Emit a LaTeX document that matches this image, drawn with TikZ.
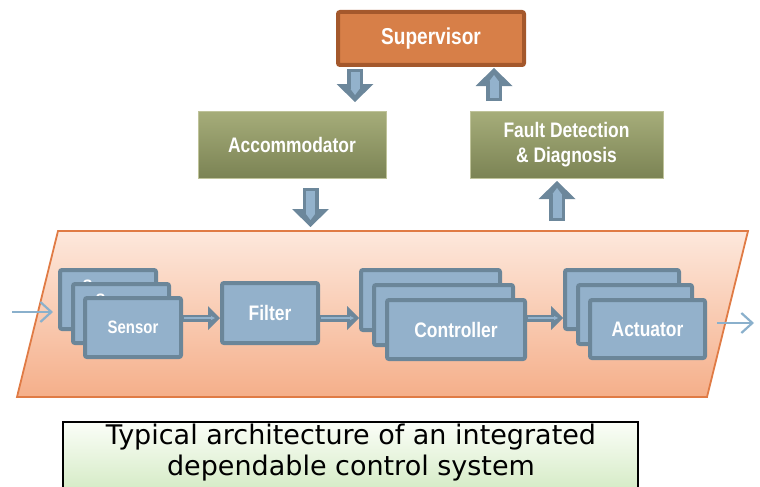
\documentclass[tikz,border=0pt]{standalone}
\usepackage{fontspec}
\newfontfamily\lab{Liberation Sans}[FakeStretch=0.83]
\newfontfamily\capfont{DejaVu Sans}
\usetikzlibrary{arrows.meta,calc}
\definecolor{boxfill}{HTML}{93B1CB}
\definecolor{boxedge}{HTML}{6B8699}
\definecolor{arrdark}{HTML}{6C879B}
\definecolor{arrlight}{HTML}{93B2CC}
\definecolor{thinarr}{HTML}{8AB0CC}
\definecolor{supfill}{HTML}{D77F48}
\definecolor{supedge}{HTML}{A4582C}
\definecolor{olivetop}{HTML}{A6AD7A}
\definecolor{olivebot}{HTML}{7B8354}
\definecolor{oliveedge}{HTML}{BFC39A}
\definecolor{frametop}{HTML}{FDE8DC}
\definecolor{framebot}{HTML}{F5AF8A}
\definecolor{frameedge}{HTML}{E07B45}
\definecolor{captop}{HTML}{FBFEF8}
\definecolor{capbot}{HTML}{D3EAC3}
\tikzset{
  bluebox/.style={draw=boxedge, line width=4pt, fill=boxfill, rounded corners=2pt,
    inner sep=0pt, text=white, font=\lab\bfseries\fontsize{21}{24}\selectfont},
  supbox/.style={draw=supedge, line width=4pt, fill=supfill, rounded corners=2pt,
    minimum width=186pt, minimum height=53pt, inner sep=0pt, text=white,
    font=\lab\bfseries\fontsize{23}{26}\selectfont},
  olivebox/.style={draw=oliveedge, line width=1pt, top color=olivetop, bottom color=olivebot,
    minimum height=67pt, inner sep=0pt, text=white, align=center},
  bigout/.style={draw=arrdark, line width=16pt,
    -{Triangle[width=37pt,length=18pt,line width=0pt]}},
  bigin/.style={draw=arrlight, line width=9pt, shorten <=3pt, shorten >=7pt,
    -{Triangle[width=9pt,length=6pt,line width=0pt]}},
  smout/.style={draw=arrdark, line width=7pt,
    -{Triangle[width=24pt,length=12pt,line width=0pt]}},
  smin/.style={draw=arrlight, line width=2pt, shorten <=1pt, shorten >=5pt,
    -{Triangle[width=4pt,length=4pt,line width=0pt]}},
  thin/.style={draw=thinarr, line width=2.2pt, -{Straight Barb[width=20pt,length=11pt]}},
  frame/.style={draw=frameedge, line width=1.8pt, top color=frametop, bottom color=framebot},
  capbox/.style={draw=black, line width=1.5pt, top color=captop, bottom color=capbot},
}
\begin{document}
\begin{tikzpicture}[x=1pt,y=-1pt]
\useasboundingbox (0,0) rectangle (760,487);

% frame
\draw[frame] (58,231) -- (748,231) -- (707,397) -- (17,397) -- cycle;

% top boxes
\node[supbox] (sup) at (431,38.5) {Supervisor};
\node[olivebox, minimum width=188pt, font=\lab\bfseries\fontsize{21}{24}\selectfont] (acc) at (292,144.5) {Accommodator};
\node[olivebox, minimum width=193pt, font=\lab\bfseries\fontsize{21}{25}\selectfont] (fdd) at (566.5,145) {Fault Detection\\\& Diagnosis};

% block arrow end points
\coordinate (a1s) at (355,69);
\coordinate (a1e) at (355,102);
\coordinate (a2s) at (494,101);
\coordinate (a2e) at (494,68);
\coordinate (a3s) at (310.5,188);
\coordinate (a3e) at (310.5,227);
\coordinate (a4s) at (557,221);
\coordinate (a4e) at (557,181);
\foreach \s/\e in {a1s/a1e,a2s/a2e,a3s/a3e,a4s/a4e}{
  \draw[bigout] (\s) -- (\e);
  \draw[bigin] (\s) -- (\e);
}

% sensors
\node[bluebox, minimum width=96pt, minimum height=59pt] (sA) at (108,299.5) {};
\node[text=white, font=\lab\bfseries\fontsize{18}{21}\selectfont] (sAt) at (108,286.5) {Sensor};
\node[bluebox, minimum width=96pt, minimum height=59pt] (sB) at (121,313.5) {};
\node[text=white, font=\lab\bfseries\fontsize{18}{21}\selectfont] (sBt) at (121,300.5) {Sensor};
\node[bluebox, minimum width=96pt, minimum height=59pt, font=\lab\bfseries\fontsize{18}{21}\selectfont] (sC) at (133,327.5) {Sensor};

% filter
\node[bluebox, minimum width=96pt, minimum height=60pt] (filt) at (270,313) {Filter};

% controllers
\node[bluebox, minimum width=139pt, minimum height=60pt] (cA) at (430.5,300) {};
\node[bluebox, minimum width=139pt, minimum height=60pt] (cB) at (443.5,315) {};
\node[bluebox, minimum width=138pt, minimum height=59pt] (cC) at (456,329.5) {Controller};

% actuators
\node[bluebox, minimum width=114pt, minimum height=59pt] (tA) at (622,299.5) {};
\node[bluebox, minimum width=114pt, minimum height=59pt] (tB) at (635,314.5) {};
\node[bluebox, minimum width=115pt, minimum height=58pt] (tC) at (647.5,329) {Actuator};

% small arrows
\foreach \a/\b in {sC/filt,filt/cA,cC/tA}{
  \draw[smout] (\a.east |- 0,318) -- (\b.west |- 0,318);
  \draw[smin] (\a.east |- 0,318) -- (\b.west |- 0,318);
}

% in / out arrows
\coordinate (inp) at (12,312);
\coordinate (outp) at (754,323);
\draw[thin] (inp) -- ($(sA.west |- inp)+(-5,0)$);
\draw[thin] ($(tC.east |- outp)+(10,0)$) -- (outp);

% caption
\draw[capbox] (63,422) rectangle (638,494);
\node[font=\capfont\fontsize{27}{31}\selectfont, align=center, text=black] (cap) at (351,453)
  {Typical architecture of an integrated\\dependable control system};
\end{tikzpicture}
\end{document}
